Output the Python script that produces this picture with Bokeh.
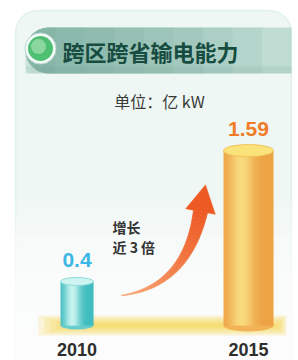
import numpy as np
from bokeh.plotting import figure
from bokeh.models import Range1d, BoxAnnotation
from bokeh.core.properties import value
from bokeh.embed import file_html
from bokeh.resources import INLINE

# ---------------- data ----------------
title = "跨区跨省输电能力"
unit_label = "单位：亿 kW"
years = [2010, 2015]
year_labels = ["2010", "2015"]
capacity = [0.4, 1.59]
value_labels = ["0.4", "1.59"]
growth_note = ["增长", "近 3 倍"]

# ---------------- styling ----------------
bar_width_px = [33, 50]
side_edge = ["#3fbcbf", "#eda244"]
side_light = ["#c6f3ef", "#f9da7e"]
top_fill = ["#cdf4f1", "#fbe37c"]
top_line = ["#8fdcd8", "#f2c259"]
top_h = [8, 12]
label_colors = ["#3cb6e6", "#f07c28"]
CJK = value("Noto Sans CJK SC")
LAT = value("Liberation Sans")

W, H = 298, 360
OX, OY = 0, 0
X2010, X2015 = 76.5, 248.0
PPY = (X2015 - X2010) / (years[1] - years[0])
BASE = 325.0
PPU = 110.0


def X(sx):
    return years[0] + (sx - X2010) / PPY


def Y(sy):
    return (BASE - sy) / PPU


p = figure(width=W, height=H, output_backend="svg", toolbar_location=None,
           x_range=Range1d(X(OX), X(OX + W)), y_range=Range1d(Y(OY + H), Y(OY)),
           x_axis_location=None, y_axis_location=None, min_border=0,
           outline_line_color=None, background_fill_color="white",
           border_fill_color="white")
p.grid.visible = False

# panel
p.add_layout(BoxAnnotation(left=X(15), right=X(291), top=Y(10), bottom=Y(380),
                           fill_color="#eef7f3", fill_alpha=1.0,
                           line_color="#b4dcd3", line_width=1.5,
                           border_radius=22, level="underlay"))
for k in range(8):
    p.add_layout(BoxAnnotation(left=X(10), right=X(300), top=Y(200 + k * 18), bottom=Y(380),
                               fill_color="white", fill_alpha=0.22, line_color=None,
                               level="underlay"))

# title band
p.add_layout(BoxAnnotation(left=X(25), right=X(291), top=Y(27), bottom=Y(73),
                           fill_color="#cbe4dc", fill_alpha=1.0, line_color=None,
                           border_radius=(23, 0, 0, 0), level="underlay"))
n = 9
for k in range(n):
    p.add_layout(BoxAnnotation(left=X(25), right=X(25 + (k + 1) * 266 / n),
                               top=Y(27), bottom=Y(73),
                               fill_color="#6aa394", fill_alpha=0.12, line_color=None,
                               border_radius=(23, 0, 0, 23), level="underlay"))
p.add_layout(BoxAnnotation(left=X(25), right=X(291), top=Y(66), bottom=Y(73),
                           fill_color="#5f9486", fill_alpha=0.12, line_color=None,
                           border_radius=(0, 0, 0, 23), level="underlay"))

# green dot
p.scatter(x=[X(40)], y=[Y(48)], size=31, fill_color="#f4fbf8", line_color="#b9d8cf", line_width=1)
p.scatter(x=[X(40)], y=[Y(48)], size=25, fill_color="#4fbf72", line_color=None)
p.scatter(x=[X(38)], y=[Y(46)], size=15, fill_color="#a4e3b2", fill_alpha=0.7, line_color=None)

p.text(x=[X(62)], y=[Y(50)], text=[title], text_font=CJK, text_font_style="bold",
       text_font_size="22px", text_color="#174c41", text_baseline="middle", text_align="left")
p.text(x=[X(159)], y=[Y(100)], text=[unit_label], text_font=CJK,
       text_font_size="16px", text_color="#3a3a3a", text_baseline="middle", text_align="center")

# floor band (soft glow)
for k in range(7):
    inset = k * 2.0
    p.quad(left=[X(38 + inset * 3)], right=[X(286 - inset)], top=[Y(315 + inset)],
           bottom=[Y(335 - inset)], fill_color="#f7d44c", fill_alpha=0.22, line_color=None)


def hex2rgb(h):
    h = h.lstrip("#")
    return np.array([int(h[i:i + 2], 16) for i in (0, 2, 4)], dtype=float)


def mix(a, b, t):
    c = hex2rgb(a) * (1 - t) + hex2rgb(b) * t
    return "#%02x%02x%02x" % tuple(int(round(v)) for v in c)


# cylinders
N = 24
for i, (yr, v) in enumerate(zip(years, capacity)):
    w = bar_width_px[i] / PPY
    l0 = yr - w / 2
    lefts = [l0 + j * w / N for j in range(N)]
    rights = [min(l0 + (j + 1) * w / N + 1.0 / PPY, yr + w / 2) for j in range(N)]
    cols = []
    for j in range(N):
        u = (j + 0.5) / N
        wgt = np.exp(-((u - 0.36) / 0.24) ** 2)
        cols.append(mix(side_edge[i], side_light[i], wgt))
    p.ellipse(x=[yr], y=[0], width=[w], height=[top_h[i]], height_units="screen",
              fill_color=mix(side_edge[i], side_light[i], 0.3), line_color=None)
    p.quad(left=lefts, right=rights, top=[v] * N, bottom=[0] * N,
           fill_color=cols, line_color=None)
    p.ellipse(x=[yr], y=[v], width=[w], height=[top_h[i]], height_units="screen",
              fill_color=top_fill[i], line_color=top_line[i], line_width=1)
    p.text(x=[yr], y=[v + 22 / PPU], text=[value_labels[i]], text_font=LAT,
           text_font_style="bold", text_font_size="21px", text_color=label_colors[i],
           text_baseline="middle", text_align="center")
    p.text(x=[yr], y=[Y(349)], text=[year_labels[i]], text_font=LAT,
           text_font_style="bold", text_font_size="18px", text_color="#2e2e2e",
           text_baseline="middle", text_align="center")

# growth arrow (decoration, in screen pixels)
P0 = np.array([121.0, 295.0])
P1 = np.array([186.0, 286.0])
P2 = np.array([200.0, 211.0])
s = np.linspace(0, 1, 41)
pts = ((1 - s) ** 2)[:, None] * P0 + (2 * (1 - s) * s)[:, None] * P1 + (s ** 2)[:, None] * P2
der = (2 * (1 - s))[:, None] * (P1 - P0) + (2 * s)[:, None] * (P2 - P1)
tang = der / np.linalg.norm(der, axis=1)[:, None]
norm = np.stack([-tang[:, 1], tang[:, 0]], axis=1)
half = 0.5 * (0.8 + 13.5 * s ** 1.2)
Lp = pts + norm * half[:, None]
Rp = pts - norm * half[:, None]
xs, ys, cs = [], [], []
for k in range(len(s) - 1):
    poly = [Lp[k], Lp[k + 1], Rp[k + 1], Rp[k]]
    xs.append([X(q[0]) for q in poly])
    ys.append([Y(q[1]) for q in poly])
    cs.append(mix("#f8b07e", "#ee5a24", s[k] ** 0.8))
p.patches(xs=xs, ys=ys, fill_color=cs, line_color=cs, line_width=0.6)
te = tang[-1]
ne = norm[-1]
tip = P2 + te * 27
c1 = P2 + ne * 15
c2 = P2 - ne * 15
p.patch(x=[X(tip[0]), X(c1[0]), X(c2[0])], y=[Y(tip[1]), Y(c1[1]), Y(c2[1])],
        fill_color="#ee5a24", line_color="#ee5a24", line_width=0.6)

p.text(x=[X(112)], y=[Y(226)], text=[growth_note[0]], text_font=CJK, text_font_style="bold",
       text_font_size="14px", text_color="#333333", text_baseline="middle", text_align="left")
p.text(x=[X(112)], y=[Y(246)], text=[growth_note[1]], text_font=CJK, text_font_style="bold",
       text_font_size="14px", text_color="#333333", text_baseline="middle", text_align="left")

open("out.html", "w").write(file_html(p, INLINE))
